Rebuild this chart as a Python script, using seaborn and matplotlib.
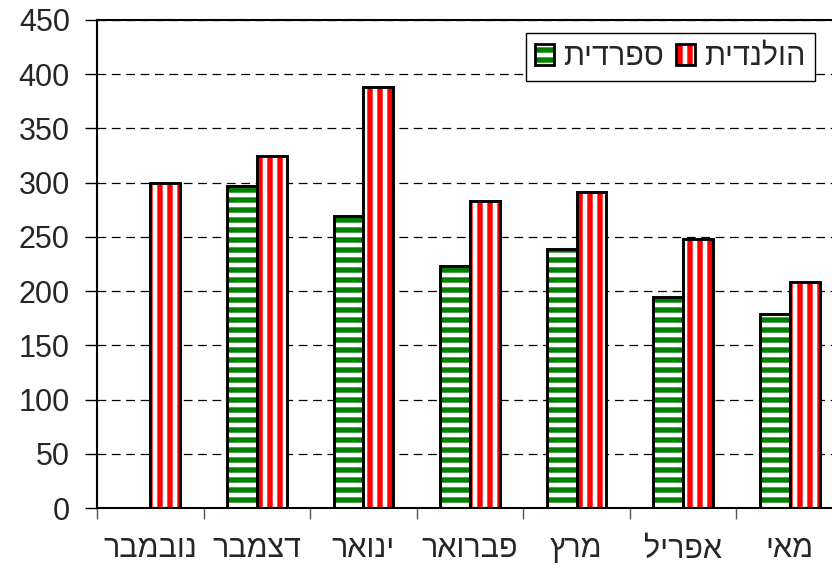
import numpy as np
import pandas as pd
import matplotlib
matplotlib.use("Agg")
import matplotlib.pyplot as plt
from matplotlib.patches import Patch, Rectangle
import seaborn as sns

months = ['נובמבר', 'דצמבר', 'ינואר', 'פברואר', 'מרץ', 'אפריל', 'מאי']
series_names = ['ספרדית', 'הולנדית']
spanish = [np.nan, 297, 269, 223, 239, 195, 179]
dutch = [300, 325, 388, 283, 291, 248, 208]
y_ticks = [0, 50, 100, 150, 200, 250, 300, 350, 400, 450]

GREEN = '#008000'
RED = '#FF0000'

DPI = 120
S = 100 / DPI  # keep pixel sizes as designed at 100 dpi


def vis(s):
    # matplotlib lays text out left-to-right; reverse Hebrew for visual order
    return s[::-1]


sns.set_style('white')
plt.rcParams['font.family'] = ['Liberation Sans', 'DejaVu Sans']
plt.rcParams['hatch.linewidth'] = 3.3 * S
plt.rcParams['hatch.color'] = 'white'

df = pd.DataFrame({
    'month': months * 2,
    'lang': [series_names[0]] * len(months) + [series_names[1]] * len(months),
    'value': spanish + dutch,
})

fig = plt.figure(figsize=(832 / DPI, 573 / DPI), dpi=DPI)
ax = fig.add_axes([97 / 832, 1 - 508 / 573, 746 / 832, 488 / 573])

sns.barplot(data=df, x='month', y='value', hue='lang', order=months,
            hue_order=series_names, palette=[GREEN, RED], width=0.56,
            saturation=1, errorbar=None, legend=False, ax=ax,
            edgecolor='white', linewidth=0)

for p in list(ax.patches):
    fc = p.get_facecolor()
    p.set_hatch('--' if fc[1] > fc[0] else '||')
    p.set_edgecolor('white')
    p.set_linewidth(0)
    h = p.get_height()
    if h is not None and np.isfinite(h) and h > 0:
        ax.add_patch(Rectangle(p.get_xy(), p.get_width(), h, fill=False,
                               edgecolor='black', linewidth=2.1 * S,
                               zorder=p.get_zorder() + 0.1))

ax.set_xlim(-0.5, len(months) - 0.5)
ax.set_ylim(0, 450)
ax.set_yticks(y_ticks)
ax.yaxis.grid(True, color='black', linestyle=(0, (7, 4.5)), linewidth=0.9 * S)
ax.set_axisbelow(True)

ax.set_xticks(np.arange(-0.5, len(months), 1.0))
ax.set_xticklabels([])
ax.set_xticks(np.arange(len(months)), minor=True)
ax.set_xticklabels([vis(m) for m in months], minor=True)
ax.tick_params(axis='x', which='major', bottom=True, length=8 * S, width=1 * S,
               color='#555555', direction='out')
ax.tick_params(axis='x', which='minor', bottom=True, length=0, pad=19 * S,
               labelsize=22 * S)
ax.tick_params(axis='y', left=True, length=8.6 * S, width=1 * S, direction='out',
               pad=11 * S, labelsize=22 * S, color='black')
ax.set_xlabel('')
ax.set_ylabel('')

for s in ['left', 'bottom', 'top']:
    ax.spines[s].set_color('black')
    ax.spines[s].set_linewidth(1.5 * S)
ax.spines['right'].set_visible(False)

handles = []
for c, hatch in [(GREEN, '--'), (RED, '||')]:
    handles.append((Patch(facecolor=c, hatch=hatch, edgecolor='white', linewidth=0),
                    Patch(fill=False, edgecolor='black', linewidth=2.0 * S)))

leg = fig.legend(handles, [vis(s) for s in series_names], ncol=2,
                 loc='upper right',
                 bbox_to_anchor=(815 / 832, 1 - 33 / 573),
                 bbox_transform=fig.transFigure, fontsize=22 * S,
                 frameon=True, fancybox=False, framealpha=1,
                 edgecolor='black', handlelength=0.62, handleheight=0.7,
                 handletextpad=0.3, columnspacing=0.4, borderpad=0.3,
                 borderaxespad=0)
leg.get_frame().set_linewidth(1 * S)

fig.savefig('out.png', dpi=DPI)
